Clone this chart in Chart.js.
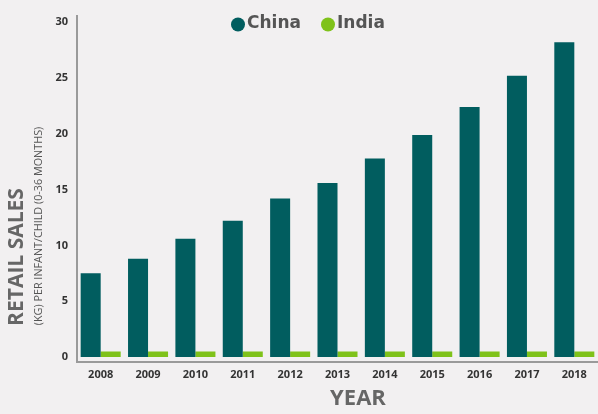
<!DOCTYPE html>
<html>
<head>
<meta charset="utf-8">
<script src="https://cdn.jsdelivr.net/npm/chart.js@4/dist/chart.umd.min.js"></script>
<style>
html,body{margin:0;padding:0;background:#f2f0f1;}
#wrap{width:598px;height:414px;position:relative;}
</style>
</head>
<body>
<div id="wrap"><canvas id="c" width="598" height="414"></canvas></div>
<script>
const years = ['2008','2009','2010','2011','2012','2013','2014','2015','2016','2017','2018'];
const chinaValues = [7.5, 8.8, 10.6, 12.2, 14.2, 15.6, 17.8, 19.9, 22.4, 25.2, 28.2];
const indiaValues = [0.5, 0.5, 0.5, 0.5, 0.5, 0.5, 0.5, 0.5, 0.5, 0.5, 0.5];
const yTicks = [0, 5, 10, 15, 20, 25, 30];
const seriesNames = ['China', 'India'];
const seriesColors = ['#015d5f', '#7fc21a'];
const yTitle = 'RETAIL SALES';
const ySubTitle = '(KG) PER INFANT/CHILD (0-36 MONTHS)';
const xTitle = 'YEAR';

const bgPlugin = {
  id: 'bg',
  beforeDraw(chart) {
    const ctx = chart.ctx;
    ctx.save();
    ctx.fillStyle = '#f2f0f1';
    ctx.fillRect(0, 0, chart.width, chart.height);
    ctx.restore();
  }
};

const textPlugin = {
  id: 'texts',
  afterDraw(chart) {
    const ctx = chart.ctx;
    ctx.save();
    ctx.translate(17, 257);
    ctx.rotate(-Math.PI / 2);
    ctx.fillStyle = '#666666';
    ctx.font = 'bold 21px "Open Sans"';
    ctx.textAlign = 'center';
    ctx.textBaseline = 'middle';
    ctx.fillText(yTitle, 0, 0);
    ctx.restore();

    ctx.save();
    ctx.translate(39, 226);
    ctx.rotate(-Math.PI / 2);
    ctx.fillStyle = '#555555';
    ctx.font = '10.8px "Open Sans"';
    ctx.textAlign = 'center';
    ctx.textBaseline = 'middle';
    ctx.fillText(ySubTitle, 0, 0);
    ctx.restore();

    ctx.save();
    ctx.fillStyle = '#666666';
    ctx.font = 'bold 22px "Open Sans"';
    ctx.textAlign = 'center';
    ctx.textBaseline = 'middle';
    ctx.fillText(xTitle, 358, 399);
    ctx.restore();

    const legendX = [238, 328];
    ctx.save();
    ctx.font = 'bold 17px "DejaVu Sans"';
    ctx.textBaseline = 'middle';
    ctx.textAlign = 'left';
    seriesNames.forEach((n, i) => {
      ctx.fillStyle = seriesColors[i];
      ctx.beginPath();
      ctx.arc(legendX[i], 24.5, 7, 0, Math.PI * 2);
      ctx.fill();
      ctx.fillStyle = '#555555';
      ctx.fillText(n, legendX[i] + 9, 24);
    });
    ctx.restore();
  }
};

new Chart(document.getElementById('c'), {
  type: 'bar',
  data: {
    labels: years,
    datasets: [
      { label: seriesNames[0], data: chinaValues, backgroundColor: seriesColors[0], borderWidth: 0 },
      { label: seriesNames[1], data: indiaValues, backgroundColor: seriesColors[1], borderWidth: 0 }
    ]
  },
  options: {
    responsive: false,
    animation: false,
    devicePixelRatio: 1,
    layout: { padding: { top: 8, left: 0, right: 0, bottom: 0 } },
    datasets: { bar: { categoryPercentage: 0.845, barPercentage: 1.0 } },
    plugins: { legend: { display: false }, tooltip: { enabled: false } },
    scales: {
      x: {
        grid: { display: false, drawTicks: false },
        border: { display: true, color: '#9a9a9a', width: 2 },
        ticks: { color: '#333333', font: { family: 'Open Sans', weight: 'bold', size: 11 }, padding: 6, maxRotation: 0 },
        afterFit(scale) { scale.height = 52; }
      },
      y: {
        min: -0.45,
        max: 30.6,
        grid: { display: false, drawTicks: false },
        border: { display: true, color: '#9a9a9a', width: 2 },
        ticks: { color: '#333333', font: { family: 'Open Sans', weight: 'bold', size: 11 }, padding: 9 },
        afterBuildTicks(scale) { scale.ticks = yTicks.map(v => ({ value: v })); },
        afterFit(scale) { scale.width = 77; }
      }
    }
  },
  plugins: [bgPlugin, textPlugin]
});
</script>
</body>
</html>
